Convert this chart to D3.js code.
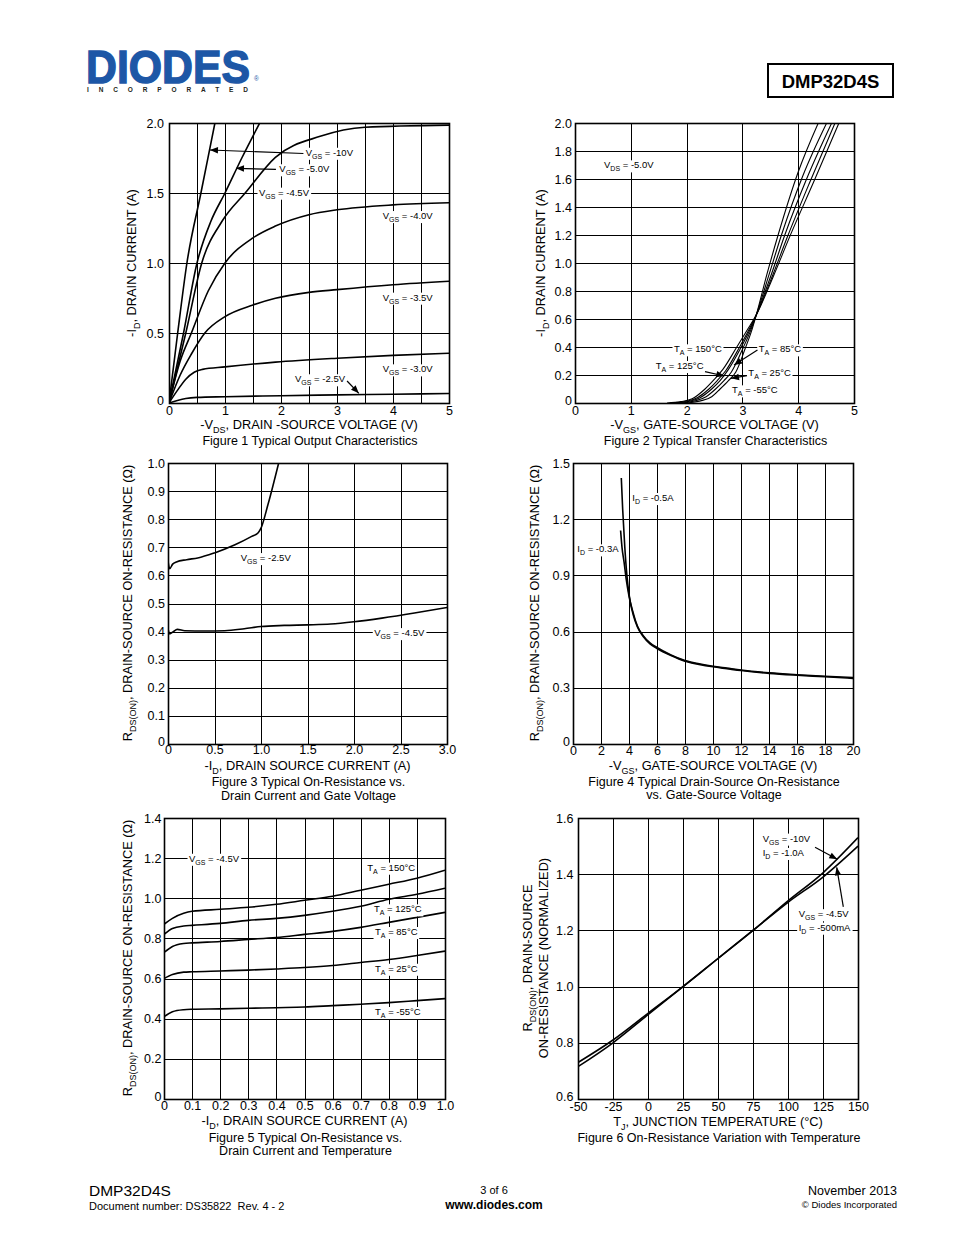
<!DOCTYPE html>
<html><head><meta charset="utf-8">
<script src="https://cdn.jsdelivr.net/npm/d3@7"></script>
<style>body{margin:0;background:#fff}svg{display:block}text{font-family:"Liberation Sans",Arial,sans-serif}</style>
</head><body><svg id="c" width="954" height="1235"></svg>
<script>
// ---------- Figure 1: output characteristics (-VDS, -ID) ----------
const fig1XTicks = [0,1,2,3,4,5];
const fig1XLabels = ['0','1','2','3','4','5'];
const fig1XGrid = [0,0.5,1,1.5,2,2.5,3,3.5,4,4.5,5];
const fig1YTicks = [0,0.5,1,1.5,2];
const fig1YLabels = ['0','0.5','1.0','1.5','2.0'];
const fig1Vgs10 = [[0,0],[0.155,0.5],[0.32,1.0],[0.57,1.5],[0.82,2.0]];
const fig1Vgs5  = [[0,0],[0.26,0.5],[0.5,1.0],[0.75,1.3],[1.0,1.5],[1.3,1.75],[1.62,2.0]];
const fig1Vgs45 = [[0,0],[0.3,0.5],[0.585,1.0],[0.95,1.3],[1.36,1.5],[1.9,1.755],[2.7,1.905],[3.5,1.97],[5,1.985]];
const fig1Vgs40 = [[0,0],[0.2,0.3],[0.4,0.5],[0.7,0.8],[1.0,1.0],[1.5,1.18],[1.9,1.264],[2.5,1.345],[3,1.38],[4,1.415],[5,1.43]];
const fig1Vgs35 = [[0,0],[0.2,0.2],[0.4,0.35],[0.64,0.5],[1.0,0.617],[1.5,0.7],[1.9,0.748],[2.5,0.79],[3,0.81],[4,0.845],[5,0.87]];
const fig1Vgs30 = [[0,0],[0.15,0.09],[0.3,0.17],[0.45,0.22],[0.6,0.24],[1,0.258],[1.9,0.292],[3,0.32],[4,0.34],[5,0.355]];
const fig1Vgs25 = [[0,0],[0.15,0.018],[0.3,0.032],[0.5,0.04],[1,0.045],[2,0.052],[3,0.058],[4,0.063],[5,0.068]];

// ---------- Figure 2: transfer characteristics ----------
const fig2XTicks = [0,1,2,3,4,5];
const fig2XLabels = ['0','1','2','3','4','5'];
const fig2YTicks = [0,0.2,0.4,0.6,0.8,1.0,1.2,1.4,1.6,1.8,2.0];
const fig2YLabels = ['0','0.2','0.4','0.6','0.8','1.0','1.2','1.4','1.6','1.8','2.0'];
const fig2T150 = [[1.65,0],[1.9,0.01],[2.1,0.03],[2.33,0.1],[2.5,0.17],[2.65,0.24],[2.9,0.4],[3.1,0.53],[3.25,0.63],[3.55,0.9],[3.85,1.19],[4.3,1.6],[4.73,2.0]];
const fig2T125 = [[1.7,0],[2.0,0.012],[2.2,0.04],[2.4,0.1],[2.55,0.16],[2.7,0.23],[2.95,0.4],[3.1,0.51],[3.25,0.63],[3.55,0.92],[3.8,1.18],[4.2,1.57],[4.66,2.0]];
const fig2T85  = [[1.8,0],[2.05,0.012],[2.25,0.04],[2.45,0.1],[2.6,0.16],[2.75,0.24],[2.98,0.4],[3.12,0.51],[3.25,0.63],[3.52,0.92],[3.76,1.2],[4.15,1.6],[4.6,2.0]];
const fig2T25  = [[1.9,0],[2.15,0.015],[2.35,0.045],[2.52,0.1],[2.67,0.16],[2.8,0.22],[3.02,0.4],[3.14,0.51],[3.25,0.63],[3.48,0.92],[3.7,1.2],[4.08,1.62],[4.51,2.0]];
const fig2Tm55 = [[2.0,0],[2.25,0.015],[2.45,0.045],[2.6,0.1],[2.75,0.16],[2.88,0.22],[3.06,0.4],[3.16,0.51],[3.25,0.63],[3.44,0.92],[3.64,1.2],[4.0,1.65],[4.36,2.0]];

// ---------- Figure 3: RDS(ON) vs ID and VGS ----------
const fig3XTicks = [0,0.5,1,1.5,2,2.5,3];
const fig3XLabels = ['0','0.5','1.0','1.5','2.0','2.5','3.0'];
const fig3YTicks = [0,0.1,0.2,0.3,0.4,0.5,0.6,0.7,0.8,0.9,1.0];
const fig3YLabels = ['0','0.1','0.2','0.3','0.4','0.5','0.6','0.7','0.8','0.9','1.0'];
const fig3Vgs25 = [[0,0.652],[0.018,0.624],[0.05,0.64],[0.09,0.648],[0.2,0.656],[0.32,0.662],[0.5,0.68],[0.72,0.709],[0.9,0.739],[0.97,0.752],[1.0,0.768],[1.075,0.852],[1.19,1.0]];
const fig3Vgs45 = [[0,0.41],[0.018,0.392],[0.054,0.399],[0.1,0.408],[0.18,0.403],[0.4,0.402],[0.61,0.403],[0.82,0.41],[1.0,0.418],[1.25,0.422],[1.5,0.424],[1.75,0.427],[2.0,0.435],[2.3,0.448],[2.65,0.466],[3.0,0.486]];

// ---------- Figure 4: RDS(ON) vs VGS ----------
const fig4XTicks = [0,2,4,6,8,10,12,14,16,18,20];
const fig4XLabels = ['0','2','4','6','8','10','12','14','16','18','20'];
const fig4YTicks = [0,0.3,0.6,0.9,1.2,1.5];
const fig4YLabels = ['0','0.3','0.6','0.9','1.2','1.5'];
const fig4Id05 = [[3.45,1.42],[3.55,1.25],[3.7,1.05],[3.85,0.9],[4.0,0.8],[4.3,0.7],[4.6,0.63],[5,0.58],[5.5,0.54],[6,0.515],[7,0.475],[8,0.445],[9,0.428],[10,0.415],[11,0.405],[12,0.395],[14,0.38],[16,0.37],[18,0.362],[20,0.355]];
const fig4Id03 = [[3.4,1.14],[3.5,1.05],[3.65,0.97],[3.8,0.88],[4.0,0.79],[4.3,0.69],[4.6,0.625],[5,0.575],[5.5,0.535],[6,0.51],[7,0.472],[8,0.442],[9,0.425],[10,0.412],[11,0.402],[12,0.392],[14,0.377],[16,0.367],[18,0.359],[20,0.35]];

// ---------- Figure 5: RDS(ON) vs ID and temperature ----------
const fig5XTicks = [0,0.1,0.2,0.3,0.4,0.5,0.6,0.7,0.8,0.9,1.0];
const fig5XLabels = ['0','0.1','0.2','0.3','0.4','0.5','0.6','0.7','0.8','0.9','1.0'];
const fig5YTicks = [0,0.2,0.4,0.6,0.8,1.0,1.2,1.4];
const fig5YLabels = ['0','0.2','0.4','0.6','0.8','1.0','1.2','1.4'];
const fig5T150 = [[0,0.87],[0.03,0.9],[0.07,0.925],[0.1,0.935],[0.2,0.945],[0.3,0.955],[0.4,0.97],[0.5,0.99],[0.6,1.01],[0.7,1.04],[0.8,1.07],[0.9,1.1],[1.0,1.14]];
const fig5T125 = [[0,0.82],[0.03,0.85],[0.07,0.862],[0.1,0.865],[0.2,0.875],[0.3,0.89],[0.4,0.9],[0.5,0.915],[0.6,0.935],[0.7,0.96],[0.8,0.995],[0.9,1.02],[1.0,1.05]];
const fig5T85  = [[0,0.73],[0.03,0.76],[0.07,0.775],[0.1,0.778],[0.2,0.785],[0.3,0.795],[0.4,0.805],[0.5,0.82],[0.6,0.835],[0.7,0.855],[0.8,0.88],[0.9,0.905],[1.0,0.93]];
const fig5T25  = [[0,0.6],[0.03,0.62],[0.07,0.632],[0.1,0.634],[0.2,0.638],[0.3,0.642],[0.4,0.648],[0.5,0.655],[0.6,0.665],[0.7,0.68],[0.8,0.695],[0.9,0.715],[1.0,0.737]];
const fig5Tm55 = [[0,0.41],[0.03,0.435],[0.07,0.445],[0.1,0.447],[0.2,0.449],[0.3,0.452],[0.4,0.455],[0.5,0.458],[0.6,0.465],[0.7,0.472],[0.8,0.48],[0.9,0.49],[1.0,0.5]];

// ---------- Figure 6: normalized RDS(ON) vs TJ ----------
const fig6XTicks = [-50,-25,0,25,50,75,100,125,150];
const fig6XLabels = ['-50','-25','0','25','50','75','100','125','150'];
const fig6YTicks = [0.6,0.8,1.0,1.2,1.4,1.6];
const fig6YLabels = ['0.6','0.8','1.0','1.2','1.4','1.6'];
const fig6Vgs10 = [[-50,0.73],[-25,0.81],[0,0.905],[25,1.0],[50,1.1],[75,1.2],[100,1.305],[125,1.405],[150,1.53]];
const fig6Vgs45 = [[-50,0.715],[-25,0.8],[0,0.9],[25,1.0],[50,1.1],[75,1.2],[100,1.3],[125,1.39],[150,1.5]];

// ------------------------------------------------------------------
const FONT = '"Liberation Sans", Arial, sans-serif';
const svg = d3.select('#c');
const defs = svg.append('defs');
defs.append('marker').attr('id','arr').attr('viewBox','0 0 10 10')
  .attr('refX',10).attr('refY',5).attr('markerWidth',9).attr('markerHeight',8)
  .attr('markerUnits','userSpaceOnUse').attr('orient','auto')
  .append('path').attr('d','M0,1 L10,5 L0,9 Z').attr('fill','#000');

function rich(t, str, size, sub) {
  const sh = size * 0.32;
  let shifted = false;
  str.split(/(_\{[^}]*\})/).forEach(p => {
    if (!p) return;
    if (p.startsWith('_{')) {
      t.append('tspan').attr('font-size', sub).attr('dy', sh).text(p.slice(2, -1));
      shifted = true;
    } else {
      const s = t.append('tspan').text(p);
      if (shifted) { s.attr('dy', -sh); shifted = false; }
    }
  });
  return t;
}

function chart(o) {
  const g = svg.append('g');
  const x = d3.scaleLinear().domain(o.xd).range([o.l, o.r]);
  const y = d3.scaleLinear().domain(o.yd).range([o.b, o.t]);
  const cid = 'clip' + o.id;
  defs.append('clipPath').attr('id', cid).append('rect')
    .attr('x', o.l).attr('y', o.t).attr('width', o.r - o.l).attr('height', o.b - o.t);
  const px = v => Math.round(x(v)) + 0.5, py = v => Math.round(y(v)) + 0.5;
  g.append('g').selectAll('line').data(o.xGrid).join('line')
    .attr('x1', px).attr('x2', px).attr('y1', o.t).attr('y2', o.b)
    .attr('stroke', '#000').attr('stroke-width', 1);
  g.append('g').selectAll('line').data(o.yGrid).join('line')
    .attr('y1', py).attr('y2', py).attr('x1', o.l).attr('x2', o.r)
    .attr('stroke', '#000').attr('stroke-width', 1);
  g.append('rect').attr('x', Math.round(x(o.xd[0])) + 0.5).attr('y', Math.round(y(o.yd[1])) + 0.5)
    .attr('width', Math.round(x(o.xd[1])) - Math.round(x(o.xd[0])))
    .attr('height', Math.round(y(o.yd[0])) - Math.round(y(o.yd[1])))
    .attr('fill', 'none').attr('stroke', '#000').attr('stroke-width', 1.6);
  const ax = g.append('g').attr('transform', `translate(0,${o.b})`)
    .call(d3.axisBottom(x).tickValues(o.xTicks).tickFormat((d, i) => o.xLabels[i]).tickSize(0).tickPadding(o.xPad));
  ax.select('.domain').remove();
  ax.attr('font-size', 12.5).attr('font-family', FONT);
  ax.selectAll('text').attr('fill', '#000');
  const ay = g.append('g').attr('transform', `translate(${o.l},0)`)
    .call(d3.axisLeft(y).tickValues(o.yTicks).tickFormat((d, i) => o.yLabels[i]).tickSize(0).tickPadding(o.yPad));
  ay.select('.domain').remove();
  ay.attr('font-size', 12.5).attr('font-family', FONT);
  ay.selectAll('text').attr('fill', '#000');
  if (o.y0Lift) ay.selectAll('.tick').filter((d, i) => i === 0).select('text').attr('dy', '0.1em');
  const line = d3.line().x(d => x(d[0])).y(d => y(d[1])).curve(d3.curveMonotoneX);
  const cg = g.append('g').attr('clip-path', `url(#${cid})`);
  o.series.forEach(s => cg.append('path').attr('d', line(s)).attr('fill', 'none')
    .attr('stroke', '#000').attr('stroke-width', o.lw).attr('stroke-linejoin', 'round'));
  // axis titles
  const cx = (o.l + o.r) / 2;
  rich(g.append('text').attr('x', cx).attr('y', o.xTitleY).attr('text-anchor', 'middle').attr('font-size', 12.8), o.xTitle, 12.8, 9);
  o.yTitles.forEach((tt, i) => {
    rich(g.append('text').attr('transform', `translate(${o.yTitleX[i]},${o.yTitleCY}) rotate(-90)`)
      .attr('text-anchor', 'middle').attr('font-size', 12.8), tt, 12.8, 9);
  });
  o.caption.forEach((c, i) => {
    g.append('text').attr('x', cx + 1).attr('y', o.capY + i * 13.5).attr('text-anchor', 'middle')
      .attr('font-size', 12.5).text(c);
  });
  const ng = g.append('g');
  (o.notes || []).forEach(n => {
    const t = ng.append('text').attr('x', x(n[0])).attr('y', y(n[1])).attr('font-size', 9.5);
    rich(t, n[2], 9.5, 7);
    const b = t.node().getBBox();
    ng.insert('rect', () => t.node()).attr('x', b.x - 1.5).attr('y', b.y + 1).attr('width', b.width + 3)
      .attr('height', b.height - 1).attr('fill', '#fff');
  });
  (o.arrows || []).forEach(a => {
    ng.append('line').attr('x1', x(a[0])).attr('y1', y(a[1])).attr('x2', x(a[2])).attr('y2', y(a[3]))
      .attr('stroke', '#000').attr('stroke-width', 1.2).attr('marker-end', 'url(#arr)');
  });
}

chart({id: 1, l: 169, r: 449, t: 123, b: 403, xd: [0, 5], yd: [0, 2],
  xGrid: fig1XGrid, yGrid: fig1YTicks, xTicks: fig1XTicks, xLabels: fig1XLabels, yTicks: fig1YTicks, yLabels: fig1YLabels,
  xPad: 3, yPad: 5, lw: 1.6, y0Lift: true,
  series: [fig1Vgs10, fig1Vgs5, fig1Vgs45, fig1Vgs40, fig1Vgs35, fig1Vgs30, fig1Vgs25],
  xTitle: '-V_{DS}, DRAIN -SOURCE VOLTAGE (V)', xTitleY: 429,
  yTitles: ['-I_{D}, DRAIN CURRENT (A)'], yTitleX: [135.5], yTitleCY: 263,
  caption: ['Figure 1 Typical Output Characteristics'], capY: 444.5,
  notes: [[2.44, 1.766, 'V_{GS} = -10V'], [1.97, 1.648, 'V_{GS} = -5.0V'], [1.607, 1.481, 'V_{GS} = -4.5V'],
    [3.816, 1.314, 'V_{GS} = -4.0V'], [3.816, 0.731, 'V_{GS} = -3.5V'], [3.816, 0.219, 'V_{GS} = -3.0V'],
    [2.25, 0.148, 'V_{GS} = -2.5V']],
  arrows: [[2.40, 1.782, 0.732, 1.807], [1.91, 1.669, 1.196, 1.676], [3.18, 0.157, 3.39, 0.069]]
});

chart({id: 2, l: 575, r: 854, t: 123, b: 403, xd: [0, 5], yd: [0, 2],
  xGrid: fig2XTicks, yGrid: fig2YTicks, xTicks: fig2XTicks, xLabels: fig2XLabels, yTicks: fig2YTicks, yLabels: fig2YLabels,
  xPad: 3, yPad: 3, lw: 1.1, y0Lift: true,
  series: [fig2T150, fig2T125, fig2T85, fig2T25, fig2Tm55],
  xTitle: '-V_{GS}, GATE-SOURCE VOLTAGE (V)', xTitleY: 429,
  yTitles: ['-I_{D}, DRAIN CURRENT (A)'], yTitleX: [544.5], yTitleCY: 263,
  caption: ['Figure 2 Typical Transfer Characteristics'], capY: 444.5,
  notes: [[0.52, 1.676, 'V_{DS} = -5.0V'], [1.774, 0.362, 'T_{A} = 150°C'], [1.446, 0.243, 'T_{A} = 125°C'],
    [3.292, 0.362, 'T_{A} = 85°C'], [3.106, 0.195, 'T_{A} = 25°C'], [2.814, 0.069, 'T_{A} = -55°C']],
  arrows: [[2.33, 0.224, 2.676, 0.193], [3.27, 0.379, 2.85, 0.271], [3.082, 0.196, 2.796, 0.176]]
});

chart({id: 3, l: 168, r: 447, t: 463, b: 744, xd: [0, 3], yd: [0, 1],
  xGrid: fig3XTicks, yGrid: fig3YTicks, xTicks: fig3XTicks, xLabels: fig3XLabels, yTicks: fig3YTicks, yLabels: fig3YLabels,
  xPad: 1, yPad: 3, lw: 1.6, y0Lift: true,
  series: [fig3Vgs25, fig3Vgs45],
  xTitle: '-I_{D}, DRAIN SOURCE CURRENT (A)', xTitleY: 770,
  yTitles: ['R_{DS(ON)}, DRAIN-SOURCE ON-RESISTANCE (Ω)'], yTitleX: [132], yTitleCY: 603,
  caption: ['Figure 3 Typical On-Resistance vs.', 'Drain Current and Gate Voltage'], capY: 786,
  notes: [[0.782, 0.651, 'V_{GS} = -2.5V'], [2.218, 0.384, 'V_{GS} = -4.5V']]
});

chart({id: 4, l: 573, r: 853, t: 463, b: 744, xd: [0, 20], yd: [0, 1.5],
  xGrid: fig4XTicks, yGrid: fig4YTicks, xTicks: fig4XTicks, xLabels: fig4XLabels, yTicks: fig4YTicks, yLabels: fig4YLabels,
  xPad: 2, yPad: 3, lw: 1.6, y0Lift: true,
  series: [fig4Id05, fig4Id03],
  xTitle: '-V_{GS}, GATE-SOURCE VOLTAGE (V)', xTitleY: 769.5,
  yTitles: ['R_{DS(ON)},  DRAIN-SOURCE ON-RESISTANCE (Ω)'], yTitleX: [539], yTitleCY: 603,
  caption: ['Figure 4 Typical Drain-Source On-Resistance', 'vs. Gate-Source Voltage'], capY: 785.5,
  notes: [[4.236, 1.297, 'I_{D} = -0.5A'], [0.307, 1.023, 'I_{D} = -0.3A']]
});

chart({id: 5, l: 164, r: 445, t: 818, b: 1099, xd: [0, 1], yd: [0, 1.4],
  xGrid: fig5XTicks, yGrid: fig5YTicks, xTicks: fig5XTicks, xLabels: fig5XLabels, yTicks: fig5YTicks, yLabels: fig5YLabels,
  xPad: 2, yPad: 2.5, lw: 1.6, y0Lift: true,
  series: [fig5T150, fig5T125, fig5T85, fig5T25, fig5Tm55],
  xTitle: '-I_{D}, DRAIN SOURCE CURRENT (A)', xTitleY: 1125,
  yTitles: ['R_{DS(ON)}, DRAIN-SOURCE ON-RESISTANCE (Ω)'], yTitleX: [132], yTitleCY: 958,
  caption: ['Figure 5 Typical On-Resistance vs.', 'Drain Current and Temperature'], capY: 1141.5,
  notes: [[0.089, 1.182, 'V_{GS} = -4.5V'], [0.7235, 1.1375, 'T_{A} = 150°C'], [0.747, 0.930, 'T_{A} = 125°C'],
    [0.751, 0.817, 'T_{A} = 85°C'], [0.751, 0.634, 'T_{A} = 25°C'], [0.751, 0.4185, 'T_{A} = -55°C']]
});

chart({id: 6, l: 578, r: 858, t: 818, b: 1099, xd: [-50, 150], yd: [0.6, 1.6],
  xGrid: fig6XTicks, yGrid: fig6YTicks, xTicks: fig6XTicks, xLabels: fig6XLabels, yTicks: fig6YTicks, yLabels: fig6YLabels,
  xPad: 3, yPad: 4.5, lw: 1.6, y0Lift: true,
  series: [fig6Vgs10, fig6Vgs45],
  xTitle: 'T_{J}, JUNCTION TEMPERATURE (°C)', xTitleY: 1125.5,
  yTitles: ['R_{DS(ON)}, DRAIN-SOURCE', 'ON-RESISTANCE (NORMALIZED)'], yTitleX: [532, 547.5], yTitleCY: 958,
  caption: ['Figure 6 On-Resistance Variation with Temperature'], capY: 1141.5,
  notes: [[81.9, 1.516, 'V_{GS} = -10V'], [81.9, 1.465, 'I_{D} = -1.0A'], [107.6, 1.247, 'V_{GS} = -4.5V'], [107.6, 1.199, 'I_{D} = -500mA']],
  arrows: [[119.3, 1.496, 135.2, 1.453], [139.5, 1.284, 134.8, 1.4245]]
});

// ---------- header ----------
const BLUE = '#1d57a6';
svg.append('g').attr('transform', 'translate(86,83) scale(0.93,1)')
  .append('text').attr('x', 0).attr('y', 0).attr('font-size', 46).attr('font-weight', 'bold')
  .attr('fill', BLUE).attr('stroke', BLUE).attr('stroke-width', 1.4).text('DIODES');
svg.append('text').attr('x', 254).attr('y', 81).attr('font-size', 6.5).attr('fill', BLUE).text('®');
svg.append('text').attr('x', 87).attr('y', 91.5).attr('font-size', 6.5).attr('font-weight', 'bold').attr('fill', '#231f20')
  .attr('textLength', 161).attr('lengthAdjust', 'spacing').text('INCORPORATED');
svg.append('rect').attr('x', 768).attr('y', 64).attr('width', 125).attr('height', 33)
  .attr('fill', 'none').attr('stroke', '#000').attr('stroke-width', 2);
svg.append('text').attr('x', 830.5).attr('y', 88).attr('text-anchor', 'middle').attr('font-size', 18.5)
  .attr('font-weight', 'bold').text('DMP32D4S');

// ---------- footer ----------
svg.append('text').attr('x', 89).attr('y', 1196).attr('font-size', 15.5).text('DMP32D4S');
svg.append('text').attr('x', 89).attr('y', 1209.5).attr('font-size', 11).text('Document number: DS35822\u00a0 Rev. 4 - 2');
svg.append('text').attr('x', 494).attr('y', 1193.5).attr('text-anchor', 'middle').attr('font-size', 11).text('3 of 6');
svg.append('text').attr('x', 494).attr('y', 1208.5).attr('text-anchor', 'middle').attr('font-size', 12).attr('font-weight', 'bold').text('www.diodes.com');
svg.append('text').attr('x', 897).attr('y', 1194.5).attr('text-anchor', 'end').attr('font-size', 12.5).text('November 2013');
svg.append('text').attr('x', 897).attr('y', 1207.5).attr('text-anchor', 'end').attr('font-size', 9.5).text('© Diodes Incorporated');
</script></body></html>
